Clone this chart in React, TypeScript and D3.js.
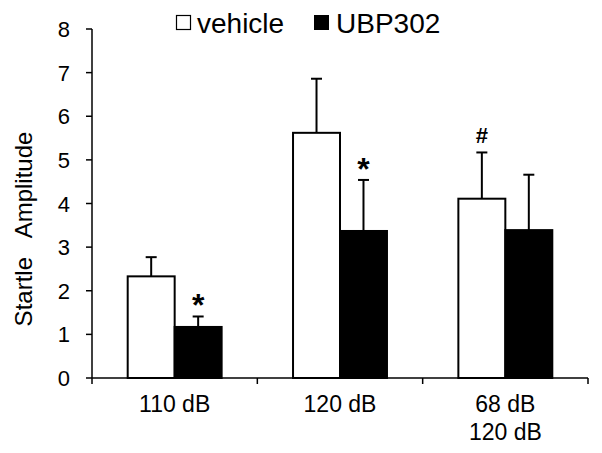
import React from 'react'
import * as d3 from 'd3'

const categories = ['110 dB', '120 dB', '68 dB\n120 dB']
const series = ['vehicle', 'UBP302']
const vehicleMean = [2.33, 5.62, 4.11]
const vehicleErr = [0.44, 1.24, 1.06]
const ubpMean = [1.17, 3.37, 3.39]
const ubpErr = [0.24, 1.17, 1.27]
// significance marks drawn over the error bars
const marks = [
  { cat: 0, s: 'UBP302', label: '*' },
  { cat: 1, s: 'UBP302', label: '*' },
  { cat: 2, s: 'vehicle', label: '#' },
]
const yTicks = [0, 1, 2, 3, 4, 5, 6, 7, 8]

const W = 602
const H = 453
const font = '"Liberation Sans", Arial, sans-serif'

export default function App() {
  const y = d3.scaleLinear().domain([0, 8]).range([378, 29])
  const x0 = d3.scaleBand().domain(categories).range([92, 588]).padding(0)
  const x1 = d3.scaleBand().domain(series).range([0, x0.bandwidth()]).paddingInner(0).paddingOuter(0.76)

  const rows = categories.map((c, i) => [
    { c, s: 'vehicle', v: vehicleMean[i], e: vehicleErr[i] },
    { c, s: 'UBP302', v: ubpMean[i], e: ubpErr[i] },
  ]).flat()

  const fill = (s: string) => (s === 'vehicle' ? '#fff' : '#000')

  return (
    <svg width={W} height={H} style={{ position: 'absolute', left: 0, top: 0, background: '#fff' }} fontFamily={font}>
      {/* legend */}
      <rect x={176.5} y={15.5} width={14} height={14} fill="#fff" stroke="#000" strokeWidth={1.2} />
      <text x={197} y={33} fontSize={28}>vehicle</text>
      <rect x={314} y={15} width={15} height={15} fill="#000" />
      <text x={336} y={33} fontSize={28}>UBP302</text>

      {/* bars */}
      {rows.map((d, i) => {
        const bx = (x0(d.c) as number) + (x1(d.s) as number)
        const bw = x1.bandwidth()
        const cx = bx + bw / 2
        return (
          <g key={i}>
            <line x1={cx} x2={cx} y1={y(d.v)} y2={y(d.v + d.e)} stroke="#000" strokeWidth={2} />
            <line x1={cx - 5.5} x2={cx + 5.5} y1={y(d.v + d.e)} y2={y(d.v + d.e)} stroke="#000" strokeWidth={2} />
            <rect x={bx} y={y(d.v)} width={bw} height={y(0) - y(d.v)} fill={fill(d.s)} stroke="#000" strokeWidth={2} />
          </g>
        )
      })}

      {marks.map((m, i) => {
        const c = categories[m.cat]
        const cx = (x0(c) as number) + (x1(m.s) as number) + x1.bandwidth() / 2
        const top = m.s === 'vehicle' ? vehicleMean[m.cat] + vehicleErr[m.cat] : ubpMean[m.cat] + ubpErr[m.cat]
        const isStar = m.label === '*'
        return (
          <text key={i} x={cx} y={y(top) - (isStar ? 0 : 9)} textAnchor="middle" fontWeight="bold"
            fontSize={isStar ? 32 : 22}>{m.label}</text>
        )
      })}

      {/* y axis */}
      <line x1={92} x2={92} y1={y(8)} y2={y(0)} stroke="#000" strokeWidth={1.5} />
      {yTicks.map(t => (
        <g key={t}>
          <line x1={86} x2={92} y1={y(t)} y2={y(t)} stroke="#000" strokeWidth={1.5} />
          <text x={70} y={y(t) + 8} textAnchor="end" fontSize={22}>{t}</text>
        </g>
      ))}
      <text transform={`translate(32,${229}) rotate(-90)`} textAnchor="middle" fontSize={24} style={{ whiteSpace: 'pre' }}>
        {'Startle   Amplitude'}
      </text>

      {/* x axis */}
      <line x1={92} x2={588} y1={y(0)} y2={y(0)} stroke="#000" strokeWidth={1.5} />
      {[...categories.map(c => x0(c) as number), 588].map((tx, i) => (
        <line key={i} x1={tx} x2={tx} y1={y(0)} y2={y(0) + 6} stroke="#000" strokeWidth={1.5} />
      ))}
      {categories.map(c => (
        <text key={c} x={(x0(c) as number) + x0.bandwidth() / 2} y={412} textAnchor="middle" fontSize={23}>
          {c.split('\n').map((line, j) => (
            <tspan key={j} x={(x0(c) as number) + x0.bandwidth() / 2} dy={j === 0 ? 0 : 28}>{line}</tspan>
          ))}
        </text>
      ))}
    </svg>
  )
}
